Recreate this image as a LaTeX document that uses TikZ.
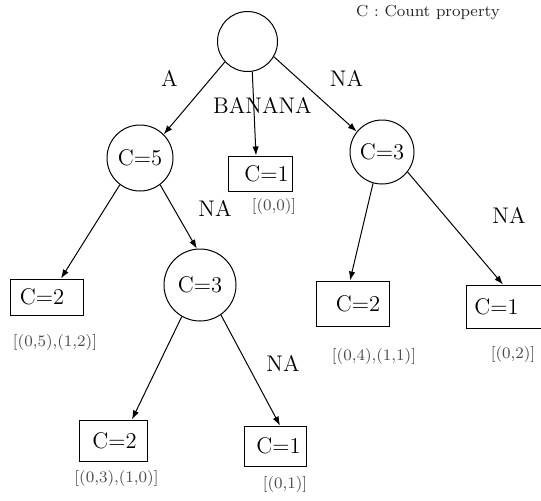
\documentclass[tikz,border=0pt]{standalone}
\usetikzlibrary{arrows.meta}
\begin{document}
\begin{tikzpicture}[x=0.5pt,y=-0.5pt,
  circ/.style={circle,draw,inner sep=0pt,line width=0.5pt,font=\fontsize{11.3}{13}\selectfont},
  leaf/.style={rectangle,draw,inner sep=0pt,line width=0.5pt,font=\fontsize{11.3}{13}\selectfont},
  elabel/.style={font=\fontsize{11.3}{13}\selectfont,inner sep=0pt},
  poslabel/.style={font=\fontsize{8}{9.6}\selectfont,text=black!70,inner sep=0pt},
  edge/.style={-{Latex[length=4.5pt,width=3.2pt]},line width=0.5pt}]
\useasboundingbox (0,0) rectangle (541,500);
% tree nodes
\node[circ,minimum size=30pt] (root) at (247.5,41.5) {};
\node[circ,minimum size=33pt] (c5) at (140,158) {C=5};
\node[circ,minimum size=32pt] (c3r) at (382,152) {C=3};
\node[circ,minimum size=36pt] (c3m) at (200,285) {C=3};
\node[leaf,minimum width=32pt,minimum height=17.5pt] (b1) at (260,173.5) {\hspace*{6.5pt}C=1};
\node[leaf,minimum width=36.5pt,minimum height=18pt] (b2) at (46.5,297) {C=2\hspace*{4.5pt}};
\node[leaf,minimum width=34pt,minimum height=20.5pt] (b3) at (113,440.5) {\hspace*{1.5pt}C=2};
\node[leaf,minimum width=31pt,minimum height=20pt] (b4) at (275,446) {\hspace*{3.5pt}C=1};
\node[leaf,minimum width=36.5pt,minimum height=22.5pt] (b5) at (352.5,303.5) {\hspace*{5.5pt}C=2};
\node[leaf,minimum width=39.5pt,minimum height=21.5pt] (b6) at (505.5,306.5) {C=1\hspace*{9pt}};
% edges
\draw[edge] (root.222) -- (c5.45);
\draw[edge] (root.-81) -- ([xshift=-2pt]b1.north);
\draw[edge] (root.-30) -- (c3r.141);
\draw[edge] (c5.-127.5) -- ([xshift=7.25pt]b2.north);
\draw[edge] (c5.-53) -- (c3m.95);
\draw[edge] (c3m.-120) -- ([xshift=9.5pt]b3.north);
\draw[edge] (c3m.-55) -- ([xshift=2.5pt]b4.north);
\draw[edge] (c3r.-106) -- ([xshift=-1.25pt]b5.north);
\draw[edge] (c3r.-38) -- ([xshift=-1.25pt]b6.north);
% edge labels
\node[elabel] (lA) at (169.5,78) {A};
\node[elabel] (lBan) at (262.5,105) {BANANA};
\node[elabel] (lNA1) at (346.5,78) {NA};
\node[elabel] (lNA2) at (215,208) {NA};
\node[elabel] (lNA3) at (509,215) {NA};
\node[elabel] (lNA4) at (283,363) {NA};
% legend
\node[font=\fontsize{8}{9.6}\selectfont,text=black!85,inner sep=0pt] (legend) at (428,12) {C : Count property};
% position lists
\node[poslabel] (p1) at (274,206) {[(0,0)]};
\node[poslabel] (p2) at (55,342) {[(0,5),(1,2)]};
\node[poslabel] (p3) at (116.5,478) {[(0,3),(1,0)]};
\node[poslabel] (p4) at (285,484) {[(0,1)]};
\node[poslabel] (p5) at (374,356) {[(0,4),(1,1)]};
\node[poslabel] (p6) at (513,354) {[(0,2)]};
\end{tikzpicture}
\end{document}
